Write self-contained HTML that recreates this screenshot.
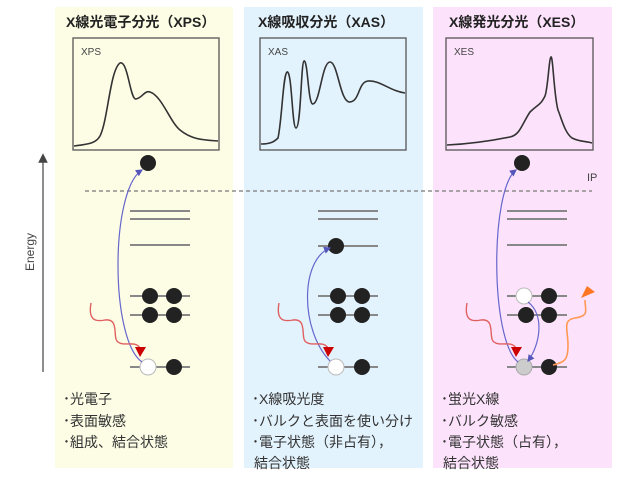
<!DOCTYPE html>
<html><head><meta charset="utf-8"><style>
html,body{margin:0;padding:0;background:#fff;}
svg{display:block;}
text{font-family:"Liberation Sans","Noto Sans CJK JP",sans-serif;}
</style></head><body>
<svg width="640" height="480" viewBox="0 0 640 480" xmlns="http://www.w3.org/2000/svg">
<defs>
<marker id="ab" markerWidth="6" markerHeight="6" refX="5" refY="3" orient="auto"><path d="M0,0 L6,3 L0,6z" fill="#5555bb"/></marker>
<marker id="ag" markerWidth="8" markerHeight="8" refX="4" refY="4" orient="auto"><path d="M0,0 L8,4 L0,8z" fill="#444"/></marker>
</defs>
<rect x="55" y="7" width="178" height="461" fill="#fdfde6"/>
<rect x="244" y="7" width="179" height="461" fill="#e3f3fd"/>
<rect x="433" y="7" width="179" height="461" fill="#fce3fb"/>
<g font-size="14" font-weight="bold" fill="#222">
<text x="66" y="27">X線光電子分光（XPS）</text>
<text x="258" y="27">X線吸収分光（XAS）</text>
<text x="449" y="27">X線発光分光（XES）</text>
</g>
<g fill="none" stroke="#555" stroke-width="1.3">
<rect x="73" y="38" width="146" height="112"/>
<rect x="260" y="38" width="146" height="112"/>
<rect x="446" y="38" width="147" height="112"/>
</g>
<g font-size="10" fill="#444">
<text x="81" y="55">XPS</text><text x="268" y="55">XAS</text><text x="454" y="55">XES</text>
</g>
<g fill="none" stroke="#333" stroke-width="1.6">
<path d="M74,146 C90,144 96,143 100,136 C108,120 110,70 120,63 C128,60 130,100 136,99 C142,98 145,90 150,92 C162,96 170,122 180,130 C192,140 205,140 218,141"/>
<path d="M261,144 C270,144 274,142 278,138 C282,120 283,75 287,72 C292,70 292,128 296,128 C301,128 301,62 304,61 C308,60 308,105 313,104 C320,103 322,62 330,62 C338,62 340,103 350,102 C360,101 358,82 368,81 C380,80 390,91 405,93"/>
<path d="M447,145 C470,144 490,141 510,137 C520,135 522,124 530,112 C538,104 540,106 545,96 C548,88 549,58 551,57 C553,56 554,96 558,110 C562,120 565,133 572,138 C580,142 586,141 592,143"/>
</g>
<line x1="43" y1="372" x2="43" y2="158" stroke="#444" stroke-width="1.2" marker-end="url(#ag)"/>
<text transform="translate(34,252) rotate(-90)" text-anchor="middle" font-size="12" fill="#444">Energy</text>
<line x1="85" y1="191" x2="592" y2="191" stroke="#777" stroke-width="1.2" stroke-dasharray="4,3"/>
<text x="587" y="181" font-size="11" fill="#444">IP</text>
<g stroke="#888" stroke-width="2">
<line x1="130" y1="211" x2="190" y2="211"/><line x1="130" y1="219" x2="190" y2="219"/><line x1="130" y1="245" x2="190" y2="245"/>
<line x1="130" y1="296" x2="190" y2="296"/><line x1="130" y1="315" x2="190" y2="315"/><line x1="130" y1="367" x2="190" y2="367"/>
<line x1="318" y1="211" x2="378" y2="211"/><line x1="318" y1="219" x2="378" y2="219"/><line x1="318" y1="246" x2="378" y2="246"/>
<line x1="318" y1="296" x2="378" y2="296"/><line x1="318" y1="315" x2="378" y2="315"/><line x1="318" y1="367" x2="378" y2="367"/>
<line x1="507" y1="211" x2="567" y2="211"/><line x1="507" y1="219" x2="567" y2="219"/><line x1="507" y1="245" x2="567" y2="245"/>
<line x1="507" y1="296" x2="567" y2="296"/><line x1="507" y1="315" x2="567" y2="315"/><line x1="507" y1="367" x2="567" y2="367"/>
</g>
<g fill="#222">
<circle cx="148" cy="163" r="8"/><circle cx="522" cy="163" r="8"/>
<circle cx="150" cy="296" r="8"/><circle cx="174" cy="296" r="8"/><circle cx="150" cy="315" r="8"/><circle cx="174" cy="315" r="8"/><circle cx="174" cy="367" r="8"/>
<circle cx="336" cy="246" r="8"/>
<circle cx="338" cy="296" r="8"/><circle cx="362" cy="296" r="8"/><circle cx="338" cy="315" r="8"/><circle cx="362" cy="315" r="8"/><circle cx="362" cy="367" r="8"/>
<circle cx="549" cy="296" r="8"/><circle cx="526" cy="315" r="8"/><circle cx="549" cy="315" r="8"/><circle cx="549" cy="367" r="8"/>
</g>
<circle cx="148" cy="367" r="8" fill="#fff" stroke="#bbb"/>
<circle cx="336" cy="367" r="8" fill="#fff" stroke="#bbb"/>
<circle cx="524" cy="296" r="8" fill="#fff" stroke="#bbb"/>
<circle cx="524" cy="367" r="8" fill="#ccc" stroke="#aaa"/>
<g fill="none" stroke="#6666cc" stroke-width="1.2">
<path d="M142,362 C110,340 110,190 142,170" marker-end="url(#ab)"/>
<path d="M330,361 C300,330 300,260 330,248" marker-end="url(#ab)"/>
<path d="M518,362 C490,340 490,190 516,170" marker-end="url(#ab)"/>
<path d="M528,302 C545,315 540,345 528,361" marker-end="url(#ab)"/>
</g>
<g fill="none" stroke="#e06060" stroke-width="1.4">
<path d="M91,303 C88,320 95,322 105,320 C120,318 112,338 118,342 C124,347 135,340 140,348"/>
<path d="M279,303 C276,320 283,322 293,320 C308,318 300,338 306,342 C312,347 323,340 328,348"/>
<path d="M467,303 C464,320 471,322 481,320 C496,318 488,338 494,342 C500,347 511,340 516,348"/>
</g>
<g fill="#cc0000">
<path d="M135,347 L146,347 L140,357z"/><path d="M323,347 L334,347 L328,357z"/><path d="M511,347 L522,347 L516,357z"/>
</g>
<path d="M553,365 C565,362 568,360 568,345 C568,330 562,320 575,318 C590,316 585,310 585,300" fill="none" stroke="#ff9955" stroke-width="1.6"/>
<path d="M581,298 L595,292 L587,286z" fill="#ff7722"/>
<g font-size="14" fill="#333">
<text x="63" y="404">･光電子</text><text x="63" y="426">･表面敏感</text><text x="63" y="447">･組成、結合状態</text>
<text x="252" y="404">･X線吸光度</text><text x="252" y="426">･バルクと表面を使い分け</text><text x="252" y="447">･電子状態（非占有），</text><text x="254" y="468">結合状態</text>
<text x="441" y="404">･蛍光X線</text><text x="441" y="426">･バルク敏感</text><text x="441" y="447">･電子状態（占有），</text><text x="443" y="468">結合状態</text>
</g>
</svg>
</body></html>
